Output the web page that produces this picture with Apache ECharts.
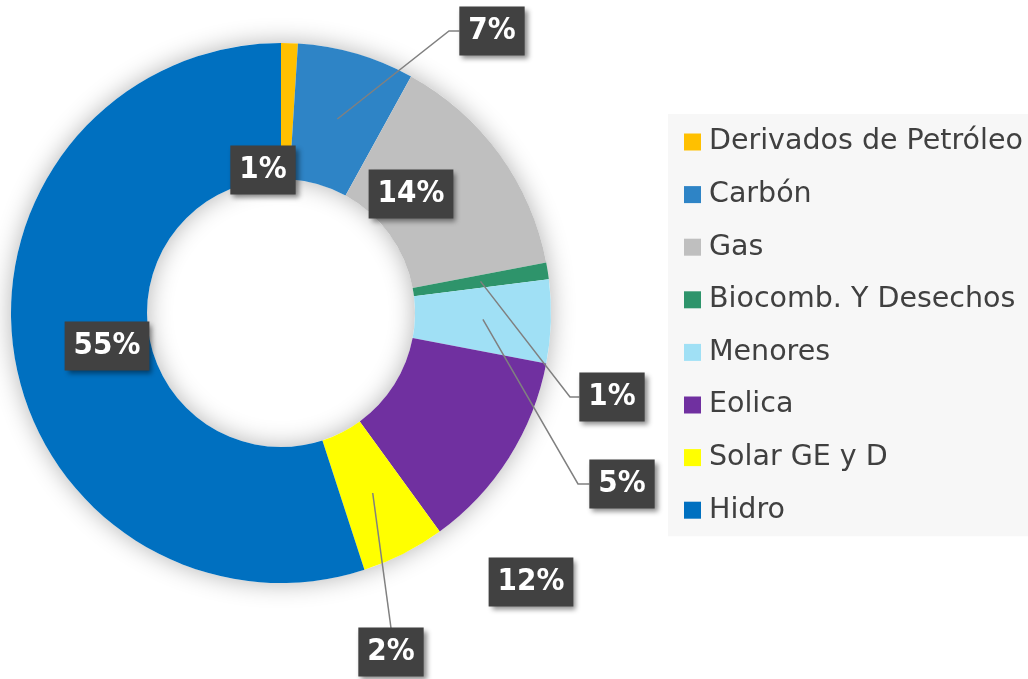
<!DOCTYPE html>
<html>
<head>
<meta charset="utf-8">
<script src="https://cdn.jsdelivr.net/npm/echarts@6/dist/echarts.min.js"></script>
<style>
  html, body { margin: 0; padding: 0; background: #fff; }
  #chart { width: 1028px; height: 679px; }
</style>
</head>
<body>
<div id="chart"></div>
<script>
const categories = ['Derivados de Petróleo', 'Carbón', 'Gas', 'Biocomb. Y Desechos', 'Menores', 'Eolica', 'Solar GE y D', 'Hidro'];
const shares = [1, 7, 14, 1, 5, 12, 5, 55];
const labelTexts = ['1%', '7%', '14%', '1%', '5%', '12%', '2%', '55%'];
const colors = ['#FFC000', '#2E84C6', '#BFBFBF', '#2E946B', '#A0E0F5', '#7030A0', '#FFFF00', '#0070C0'];

const center = [281, 313];
const radii = [134, 270];

// where each label box sits, and the bend of its leader line (if any)
const labelSpots = [
    {x: 263, y: 170},
    {x: 492, y: 31, elbow: [449, 31]},
    {x: 411, y: 194},
    {x: 612, y: 397, elbow: [570, 397]},
    {x: 622, y: 484, elbow: [578, 484]},
    {x: 531, y: 582},
    {x: 391, y: 652, elbow: [391, 628], down: true},
    {x: 107, y: 346}
];

const total = shares.reduce((a, b) => a + b, 0);
function midPoint(i) {
    let before = 0;
    for (let k = 0; k < i; k++) before += shares[k];
    const a = (before + shares[i] / 2) / total * 2 * Math.PI;
    const r = (radii[0] + radii[1]) / 2;
    return [center[0] + r * Math.sin(a), center[1] - r * Math.cos(a)];
}

const sliceData = categories.map((name, i) => ({name: name, value: shares[i]}));

const myChart = echarts.init(document.getElementById('chart'));

const option = {
    backgroundColor: '#fff',
    color: colors,
    legend: {
        orient: 'vertical',
        left: 668,
        top: 114,
        backgroundColor: '#f7f7f7',
        padding: [13, 10, 11, 16],
        itemWidth: 17,
        itemHeight: 17,
        itemGap: 22.6,
        icon: 'rect',
        selectedMode: false,
        textStyle: {
            color: '#404040',
            fontFamily: 'DejaVu Sans',
            fontSize: 28.5,
            lineHeight: 30,
            padding: [0, 0, 0, 3],
        },
        data: categories,
    },
    series: [
        {
            // the coloured ring
            type: 'pie',
            center: center,
            radius: radii,
            z: 2,
            startAngle: 90,
            clockwise: true,
            color: colors,
            label: {show: false},
            labelLine: {show: false},
            emphasis: {scale: false},
            data: sliceData,
        },
        {
            // soft shadow under the ring
            type: 'pie',
            silent: true,
            center: center,
            radius: radii,
            z: 1,
            label: {show: false},
            labelLine: {show: false},
            itemStyle: {
                color: '#fff',
                shadowBlur: 24,
                shadowColor: 'rgba(0,0,0,0.3)',
            },
            data: [{value: 1, name: 'ring'}],
        },
        {
            // invisible copy on top carrying the labels and leader lines
            type: 'pie',
            silent: true,
            center: center,
            radius: radii,
            z: 3,
            startAngle: 90,
            clockwise: true,
            avoidLabelOverlap: false,
            itemStyle: {color: 'rgba(0,0,0,0)'},
            label: {
                show: true,
                position: 'outside',
                formatter: p => labelTexts[p.dataIndex],
                color: '#fff',
                fontFamily: 'DejaVu Sans Condensed, DejaVu Sans',
                fontWeight: 'bold',
                fontSize: 31,
                lineHeight: 33,
                backgroundColor: '#414141',
                padding: [8, 9],
                shadowColor: 'rgba(0,0,0,0.45)',
                shadowBlur: 5,
                shadowOffsetX: 3,
                shadowOffsetY: 3,
            },
            labelLine: {
                show: true,
                lineStyle: {color: '#808080', width: 1.5},
            },
            labelLayout: function (params) {
                if (params.seriesIndex !== 2) return {};
                const i = params.dataIndex;
                const spot = labelSpots[i];
                const out = {x: spot.x, y: spot.y, align: 'center', verticalAlign: 'middle'};
                if (spot.elbow) {
                    const end = spot.down
                        ? [spot.elbow[0], spot.elbow[1]]
                        : [spot.x - params.labelRect.width / 2, spot.y];
                    out.labelLinePoints = [midPoint(i), spot.elbow, end];
                }
                return out;
            },
            emphasis: {disabled: true},
            data: sliceData.map((d, i) => ({
                name: d.name,
                value: d.value,
                labelLine: {show: !!labelSpots[i].elbow},
            })),
        },
    ],
};

option && myChart.setOption(option);
</script>
</body>
</html>
